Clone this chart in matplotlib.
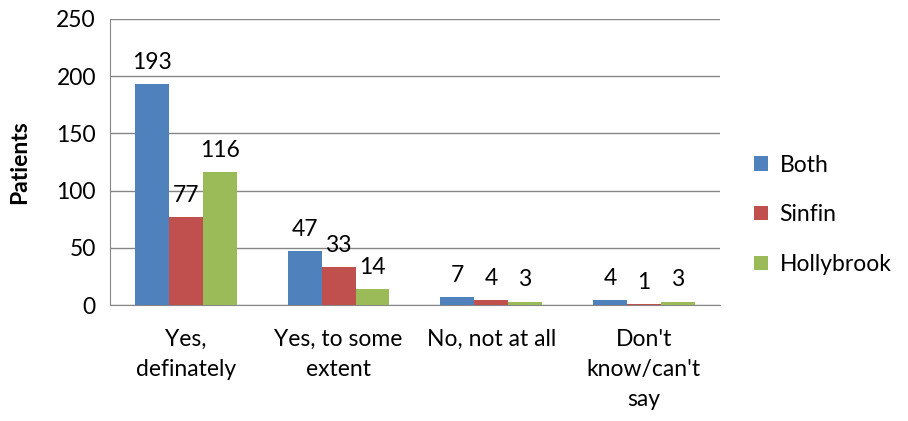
import matplotlib.pyplot as plt
import numpy as np

categories = ["Yes,\ndefinately", "Yes, to some\nextent", "No, not at all", "Don't\nknow/can't\nsay"]
series_names = ["Both", "Sinfin", "Hollybrook"]
both = [193, 47, 7, 4]
sinfin = [77, 33, 4, 1]
hollybrook = [116, 14, 3, 3]
colors = ["#4F81BD", "#C0504D", "#9BBB59"]

plt.rcParams['font.family'] = ['Lato', 'DejaVu Sans']
fs = 16.5

fig = plt.figure(figsize=(9.08, 4.21), dpi=100)
ax = fig.add_axes([0.121, 0.2755, 0.672, 0.6795])

x = np.arange(len(categories))
w = 0.222
for i, (vals, name) in enumerate(zip([both, sinfin, hollybrook], series_names)):
    bars = ax.bar(x + (i - 1) * w, vals, w, color=colors[i], label=name, zorder=3)
    for b, v in zip(bars, vals):
        ax.annotate(str(v), (b.get_x() + b.get_width() / 2, v), xytext=(0, 8),
                    textcoords='offset points', ha='center', va='bottom', fontsize=fs)

ax.set_xlim(-0.5, 3.5)
ax.set_ylim(0, 250)
ax.set_yticks(range(0, 251, 50))
ax.yaxis.grid(True, color='#868686', lw=1, zorder=0)
ax.set_xticks(x)
ax.set_xticklabels(categories, fontsize=fs, linespacing=1.55)
ax.tick_params(axis='both', length=0, labelsize=fs)
ax.tick_params(axis='y', pad=10)
ax.tick_params(axis='x', pad=17)
for s in ['top', 'right']:
    ax.spines[s].set_visible(False)
for s in ['left', 'bottom']:
    ax.spines[s].set_color('#868686')
ax.set_ylabel('Patients', fontsize=fs, fontweight='bold', labelpad=19)

fig.legend(loc='center left', bbox_to_anchor=(0.808, 0.49), frameon=False, fontsize=fs,
           handlelength=0.6, handleheight=0.6, handletextpad=0.5, labelspacing=1.25)

fig.savefig('out.png')
